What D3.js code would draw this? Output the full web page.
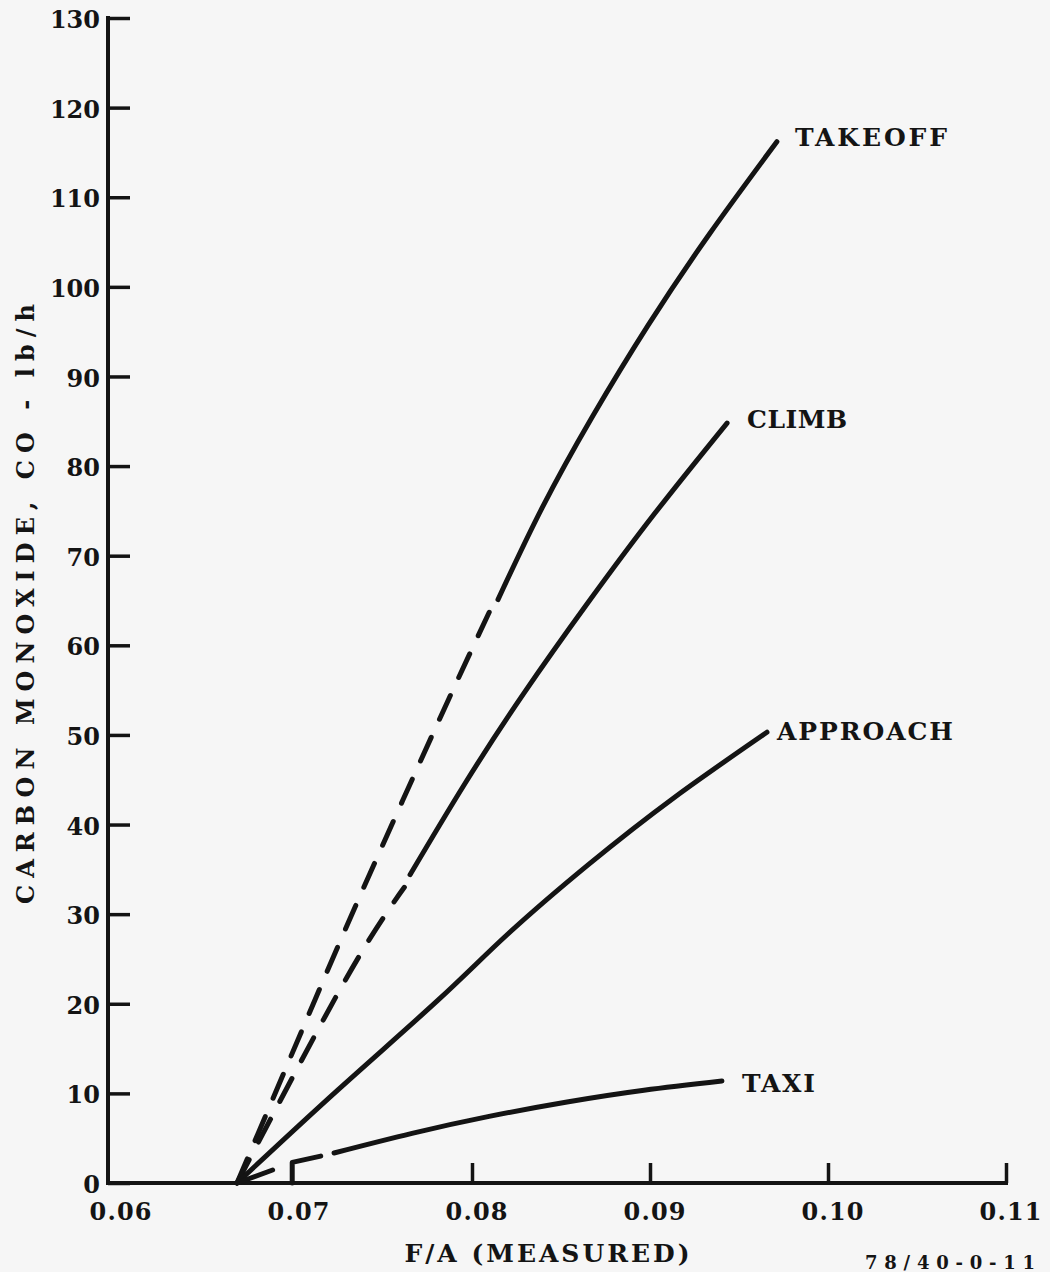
<!DOCTYPE html>
<html><head><meta charset="utf-8">
<script src="https://cdn.jsdelivr.net/npm/d3@7"></script>
<style>html,body{margin:0;padding:0;background:#f6f6f6;} svg{display:block;}</style>
</head><body>
<svg id="c" width="1050" height="1272"></svg>
<script>
// ---- data ----
const xTicks = [0.06, 0.07, 0.08, 0.09, 0.10, 0.11];
const xTickLabels = ["0.06", "0.07", "0.08", "0.09", "0.10", "0.11"];
const yTicks = [0, 10, 20, 30, 40, 50, 60, 70, 80, 90, 100, 110, 120, 130];
const seriesNames = ["TAKEOFF", "CLIMB", "APPROACH", "TAXI"];

const takeoffDashed = [[0.06680,0],[0.07117,20.4],[0.07361,31.6],[0.07611,42.7],[0.07867,53.9],[0.08097,63.7]];
const takeoffSolid  = [[0.08146,65.1],[0.08393,75.3],[0.08676,85.5],[0.08989,95.7],[0.09334,105.9],[0.09713,116.2]];
const climbDashed   = [[0.06680,0],[0.07242,21.0],[0.07522,30.2],[0.07620,33.0]];
const climbSolid    = [[0.07652,34.4],[0.07958,44.5],[0.08290,54.6],[0.08646,64.6],[0.09026,74.7],[0.09433,84.8]];
const approachSolid = [[0.06680,0],[0.07247,10.4],[0.07809,20.4],[0.08197,27.7],[0.08652,35.5],[0.09135,43.0],[0.09657,50.3]];
const taxiStub      = [[0.06680,0],[0.06880,1.45]];
const taxiStep      = [[0.06990,0],[0.06990,2.3],[0.07150,3.0]];
const taxiSolid     = [[0.07225,3.35],[0.07663,5.54],[0.08096,7.43],[0.08534,9.04],[0.08966,10.35],[0.09404,11.38]];

// ---- layout ----
const svg = d3.select("#c");
const ink = "#141414";
const x = d3.scaleLinear().domain([0.06, 0.11]).range([116, 1006]);
const y = d3.scaleLinear().domain([0, 130]).range([1183, 18]);
const axisX0 = 108;
const serif = "'DejaVu Serif', serif";

// y axis
const yAxis = d3.axisLeft(y).tickValues(yTicks).tickSize(-22).tickPadding(8).tickFormat(d3.format("d"));
const gy = svg.append("g").attr("transform", `translate(${axisX0},0)`).call(yAxis);
gy.select(".domain").remove();
gy.selectAll(".tick line").attr("stroke", ink).attr("stroke-width", 3.5);
gy.selectAll(".tick text").attr("fill", ink).attr("font-family", serif).attr("font-weight", "bold")
  .attr("font-size", 24).attr("dy", "0.4em");
svg.append("line").attr("x1", axisX0).attr("x2", axisX0).attr("y1", y(130) - 2).attr("y2", y(0) + 2)
  .attr("stroke", ink).attr("stroke-width", 4);

// x axis
const xAxis = d3.axisBottom(x).tickValues(xTicks).tickSize(-20).tickPadding(0)
  .tickFormat((d, i) => xTickLabels[i]);
const gx = svg.append("g").attr("transform", `translate(0,${y(0)})`).call(xAxis);
gx.select(".domain").remove();
gx.selectAll(".tick line").attr("stroke", ink).attr("stroke-width", 3.5)
  .attr("visibility", d => d < 0.075 ? "hidden" : "visible");
gx.selectAll(".tick text").attr("fill", ink).attr("font-family", serif).attr("font-weight", "bold")
  .attr("font-size", 24).attr("dy", 0).attr("y", 37).attr("x", 4)
  .attr("textLength", 62).attr("lengthAdjust", "spacing");
svg.append("line").attr("x1", axisX0 - 2).attr("x2", x(0.11) + 2).attr("y1", y(0)).attr("y2", y(0))
  .attr("stroke", ink).attr("stroke-width", 4);

// curves
const smooth = d3.line().x(d => x(d[0])).y(d => y(d[1])).curve(d3.curveNatural);
const straight = d3.line().x(d => x(d[0])).y(d => y(d[1]));
function draw(data, gen, dashed) {
  svg.append("path").attr("d", gen(data)).attr("fill", "none").attr("stroke", ink)
    .attr("stroke-width", 5).attr("stroke-linecap", "round").attr("stroke-linejoin", "round")
    .attr("stroke-dasharray", dashed ? "26,20" : null);
}
draw(takeoffDashed, smooth, true);
draw(takeoffSolid, smooth, false);
draw(climbDashed, smooth, true);
draw(climbSolid, smooth, false);
draw(approachSolid, smooth, false);
draw(taxiStub, straight, false);
draw(taxiStep, straight, false);
draw(taxiSolid, smooth, false);

// series labels anchored at curve ends
const ends = [takeoffSolid, climbSolid, approachSolid, taxiSolid].map(a => a[a.length - 1]);
const labelOffsets = [[18, 4], [20, 5], [10, 8], [20, 11]];
const labelWidths = [152, 100, 176, 73];
seriesNames.forEach((name, i) => {
  svg.append("text").text(name)
    .attr("x", x(ends[i][0]) + labelOffsets[i][0]).attr("y", y(ends[i][1]) + labelOffsets[i][1])
    .attr("font-family", serif).attr("font-weight", "bold").attr("font-size", 25).attr("fill", ink)
    .attr("textLength", labelWidths[i]).attr("lengthAdjust", "spacing");
});

// axis titles
svg.append("text").text("CARBON MONOXIDE,  CO - lb/h")
  .attr("transform", "translate(34,604) rotate(-90)").attr("text-anchor", "middle")
  .attr("font-family", serif).attr("font-weight", "bold").attr("font-size", 24).attr("fill", ink)
  .attr("textLength", 600).attr("lengthAdjust", "spacing");
svg.append("text").text("F/A (MEASURED)")
  .attr("x", 547).attr("y", 1262).attr("text-anchor", "middle")
  .attr("font-family", serif).attr("font-weight", "bold").attr("font-size", 25).attr("fill", ink)
  .attr("textLength", 285).attr("lengthAdjust", "spacing");
svg.append("text").text("78/40-0-11")
  .attr("x", 865).attr("y", 1269)
  .attr("font-family", serif).attr("font-weight", "bold").attr("font-size", 18).attr("fill", ink)
  .attr("textLength", 170).attr("lengthAdjust", "spacing");
</script>
</body></html>
